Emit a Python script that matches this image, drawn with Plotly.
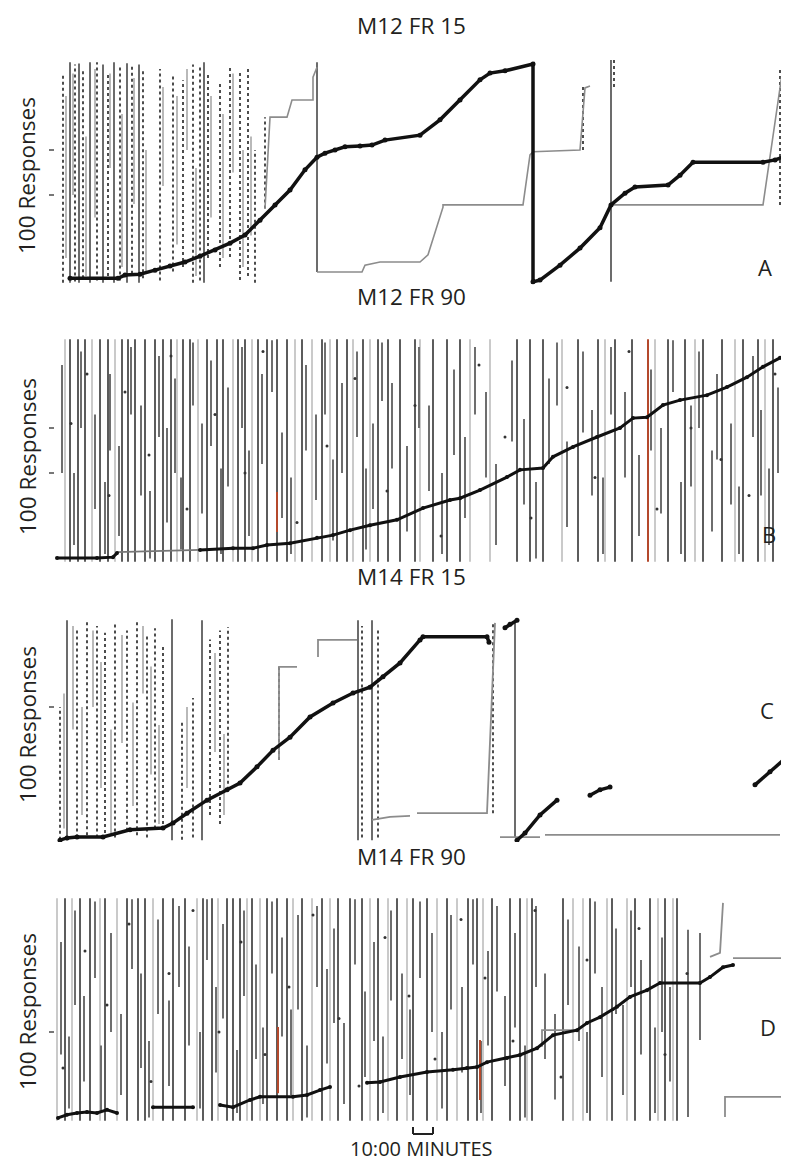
import plotly.graph_objects as go

# ---------------- Panel A : M12 FR 15 ----------------
a_curve_x = [7.5, 31.5, 35, 42.5, 50, 57.5, 65, 72.5, 80, 87.5, 95, 102.5, 110, 117.5, 125, 131, 135, 140,
             145, 152.5, 158.5, 165, 182.5, 192.5, 202.5, 212.5, 217.5, 225, 239, 239, 242.5, 252.5, 262.5,
             272.5, 278, 285, 290, 306.5, 312.5, 319, 354, 360, 367]
a_curve_y = [15, 15, 22, 24, 33, 42, 51, 64, 78, 93, 111, 144, 178, 211, 256, 284, 293, 300,
             307, 309, 311, 322, 333, 367, 411, 456, 471, 476, 491, 7, 11, 44, 82,
             127, 178, 204, 218, 222, 244, 273, 273, 278, 289]
a_step_x = [105, 107.5, 116, 118.5, 129, 129, 131, None, 131, 153.5, 155, 162.5, 182.5, 186.5, 194, 194, 234,
            237.5, 239, 262.5, 265, 267.5, None, 278, 354, 364]
a_step_y = [170, 373, 373, 411, 411, 462, 484, None, 29, 29, 44, 51, 51, 67, 173, 178, 178,
            289, 296, 300, 438, 442, None, 178, 178, 484]
a_solid_x = [7.5, 12, 17.5, 24, 29.5, 36, 42, 74.5, 131, 278]
a_solid_lo = [5, 5, 5, 5, 5, 5, 5, 5, 29, 7]
a_solid_hi = [495, 492, 495, 490, 495, 493, 490, 495, 495, 500]
a_gseg_x = [5.5, 9, 15.5, 20, 27.5, 33.5, 39.5, 45.5, 54, 61, 66, 70.5, 78, 84, 89, 94, 98]
a_gseg_lo = [60, 200, 20, 150, 260, 40, 180, 30, 220, 90, 300, 20, 150, 60, 250, 40, 110]
a_gseg_hi = [420, 470, 330, 480, 470, 380, 460, 300, 440, 420, 480, 260, 420, 380, 470, 300, 330]
a_dot_x = [4, 10, 14, 21, 26.5, 32.5, 38.5, 44, 52.5, 59, 64, 69, 72.5, 76.5, 82.5, 87.5, 92.5, 96.5, 100,
           105, 264, 279.5, 362.5]
a_dot_top = [470, 490, 480, 495, 470, 490, 485, 475, 480, 470, 455, 490, 485, 470, 450, 489, 478, 480, 300,
             373, 440, 500, 484]
a_dot_bot = [5, 8, 15, 10, 20, 10, 25, 15, 10, 30, 40, 5, 10, 60, 40, 62, 11, 20, 5,
             170, 300, 440, 178]
a_ticks = [200, 300]

# ---------------- Panel B : M12 FR 90 ----------------
b_curve_x = [1, 21, 29, 31, None, 72.5, 89, 99, 106, 117.5, 131, 139, 147.5, 157.5, 171, 184, 197.5, 202.5,
             212.5, 226, 232.5, 244, 249, 259, 271, 282.5, 289, 296, 304, 312.5, 326, 336, 346, 354, 362.5]
b_curve_y = [11, 11, 13, 22, None, 29, 33, 33, 40, 44, 56, 62, 73, 84, 96, 122, 140, 144,
             162, 191, 207, 211, 236, 258, 280, 300, 322, 324, 351, 362, 373, 391, 413, 436, 456]
b_flat_x = [31, 72.5]
b_flat_y = [24, 29]
b_dark_x = [7.5, 11.5, 15, 22.5, 26.5, 33.5, 36.5, 40, 45, 50, 54, 58, 64, 67.5, 76, 81, 84, 91.5, 95, 101.5,
            106, 111, 116, 123.5, 133.5, 141, 146, 154, 161.5, 166.5, 172.5, 180, 189, 196, 202.5, 231,
            237.5, 244, 261.5, 271.5, 280, 288.5, 306.5, 315, 324, 333.5, 344, 351.5, 359]
b_light_x = [5, 18.5, 30, 61, 71.5, 89, 98.5, 120, 128.5, 137.5, 149, 157.5, 182.5, 207.5, 217.5, 253.5,
             275, 300, 320, 340, 355]
b_seg_x = [3.5, 9.5, 13, 20, 25, 27.5, 32, 38, 43, 47.5, 52, 56, 60, 63, 69, 73.5, 78, 83, 86.5, 93.5,
           97, 103.5, 108.5, 113.5, 118, 125.5, 130.5, 135, 139, 143.5, 151, 155.5, 159, 163.5, 168.5, 176,
           182, 187, 193.5, 199.5, 205, 210, 215.5, 220.5, 228.5, 234.5, 240.5, 247, 251, 256, 264, 268.5,
           274, 278, 285, 292, 298, 303, 309, 313, 318, 322, 328.5, 331, 338, 342, 349, 353, 357, 361.5]
b_seg_lo = [200, 40, 300, 120, 20, 250, 60, 330, 150, 10, 280, 90, 200, 30, 350, 110, 260, 20, 170, 300,
            60, 220, 380, 100, 20, 250, 140, 330, 50, 200, 280, 30, 120, 360, 210, 70, 300, 160, 20, 240,
            100, 330, 190, 40, 270, 130, 10, 220, 350, 80, 290, 150, 20, 330, 190, 60, 250, 110, 380, 20,
            170, 300, 70, 230, 130, 20, 280, 150, 40, 200]
b_seg_hi = [440, 200, 470, 330, 180, 420, 260, 480, 350, 160, 460, 300, 410, 190, 490, 310, 450, 210, 390, 480,
            250, 420, 495, 290, 190, 440, 330, 490, 230, 400, 470, 210, 310, 490, 400, 260, 480, 350, 200, 430,
            280, 480, 380, 220, 450, 320, 180, 410, 490, 270, 470, 340, 190, 480, 380, 240, 430, 300, 495, 180,
            350, 470, 250, 420, 310, 170, 460, 340, 210, 390]
b_red_x = [296.5, 111]
b_red_lo = [3, 69]
b_red_hi = [497, 158]
b_pt_x = [8, 16, 27, 35, 47, 58, 66, 80, 95, 104, 121, 136, 150, 166, 180, 193, 212, 225, 238, 256, 270, 287,
          301, 318, 333, 347, 360]
b_pt_y = [310, 420, 150, 380, 240, 460, 120, 330, 200, 470, 90, 260, 410, 160, 350, 60, 440, 280, 100, 390,
          190, 470, 120, 300, 230, 150, 420]
b_ticks = [200, 300]

# ---------------- Panel C : M14 FR 15 ----------------
c_curve_x = [2.5, 6, 11, 24, 37.5, 54, 59, 66, 76, 86, 92.5, 101, 109, 117.5, 127.5, 139, 149, 157.5, 164,
             172.5, 182.5, 184, 216, 217, None, 225, 227.5, 231, None, 231, 235, 242.5, 251, None,
             267.5, 272.5, 277.5, None, 350, 357.5, 366]
c_curve_y = [4, 9, 11, 11, 27, 31, 42, 64, 93, 116, 131, 167, 204, 233, 278, 309, 331, 344, 367,
             398, 449, 456, 456, 444, None, 476, 484, 493, None, 4, 20, 60, 93, None,
             104, 116, 122, None, 127, 156, 189]
c_step_x = [112, 112, 121, None, 131.5, 131.5, 151, None, 158.5, 167.5, 177.5, None, 181, 216, 220, None,
            222.5, 242.5, None, 245, 362.5]
c_step_y = [182, 389, 389, None, 411, 449, 449, None, 49, 56, 58, None, 64, 64, 487, None,
            11, 11, None, 16, 16]
c_solid_x = [6, 58.5, 73.5, 151.5, 158.5, 230]
c_solid_lo = [4, 4, 4, 4, 4, 11]
c_solid_hi = [493, 495, 493, 493, 493, 487]
c_gseg_x = [4.5, 9, 13.5, 19, 23, 28, 33.5, 39, 44, 48, 52, 66, 80, 84.5]
c_gseg_lo = [30, 250, 60, 300, 120, 20, 220, 80, 330, 150, 40, 120, 200, 60]
c_gseg_hi = [330, 480, 300, 470, 400, 250, 460, 310, 480, 390, 260, 300, 420, 240]
c_dot_x = [2.5, 11, 16, 21, 25, 30, 36, 41, 46, 50, 54, 63.5, 69, 77.5, 82.5, 86.5, 112, 153.5, 161.5, 219]
c_dot_top = [300, 470, 490, 480, 465, 485, 470, 490, 460, 475, 440, 270, 320, 450, 470, 478, 389, 480, 470, 487]
c_dot_bot = [5, 10, 15, 10, 20, 10, 25, 15, 10, 30, 40, 5, 10, 60, 40, 116, 182, 10, 10, 64]
c_ticks = [300]

# ---------------- Panel D : M14 FR 90 ----------------
d_curve_x = [1.5, 6, 11, 16, 21, 26, 31, None, 49, 69, None, 82.5, 89, 97.5, 102.5, 119, 126, 132.5, 137.5,
             None, 156, 162.5, 172.5, 186, 199, 206, 211, 216, 226, 232.5, 241, 249, 261, 266, 272.5, 281,
             287.5, 296, 302.5, 322.5, 327.5, 334, 339]
d_curve_y = [9, 16, 20, 22, 20, 27, 20, None, 33, 33, None, 38, 33, 49, 56, 56, 60, 71, 78,
             None, 87, 89, 100, 111, 116, 120, 122, 133, 142, 149, 164, 193, 204, 220, 233, 256,
             278, 293, 309, 309, 322, 344, 349]
d_step_x = [243.5, 243.5, 261, None, 327.5, 332.5, 334, None, 339, 366, None, 335, 335, 366]
d_step_y = [167, 204, 204, None, 367, 376, 487, None, 364, 364, None, 11, 56, 56]
d_dark_x = [5, 12.5, 17.5, 25, 36, 41.5, 45, 54, 59, 65, 74, 78.5, 86, 89, 92.5, 98.5, 106, 111, 116, 123.5,
            133.5, 141.5, 147.5, 153.5, 161.5, 171, 179, 186, 196, 206.5, 211, 218.5, 227.5, 232.5, 238.5,
            254, 267.5, 278.5, 290, 297.5, 305, 311]
d_light_x = [1, 8.5, 22.5, 31, 49, 71, 81.5, 96, 102.5, 119, 128.5, 137.5, 157.5, 166.5, 176, 191, 201, 214,
             236, 259, 264, 276, 286, 301.5, 309]
d_seg_x = [3, 7, 10, 14.5, 20, 23, 28, 33, 38.5, 43, 47, 51.5, 57, 62, 67, 72.5, 76, 80.5, 84, 91,
           94.5, 100.5, 104, 108.5, 113.5, 118, 121.5, 126, 131, 136, 139.5, 144.5, 150, 155, 159.5, 164,
           168, 173.5, 177.5, 182.5, 188.5, 193.5, 198, 203.5, 209, 213, 216.5, 221, 225, 230, 235, 240.5,
           245, 250, 256.5, 262, 266, 270, 273.5, 280.5, 284, 288, 293, 300, 303.5, 307.5, 316.5, 322.5]
d_seg_lo = [150, 30, 260, 90, 320, 20, 200, 60, 340, 120, 10, 240, 80, 300, 170, 30, 360, 110, 230, 20,
            280, 140, 40, 330, 190, 60, 250, 10, 300, 130, 220, 40, 350, 100, 180, 20, 270, 140, 60, 320,
            200, 30, 250, 110, 350, 20, 170, 290, 80, 210, 10, 300, 140, 50, 260, 180, 20, 330, 100, 240,
            60, 300, 150, 20, 200, 90, 11, 182]
d_seg_hi = [400, 190, 470, 280, 490, 170, 420, 240, 495, 330, 180, 450, 270, 480, 390, 200, 495, 300, 440, 160,
            470, 350, 210, 490, 410, 250, 460, 170, 480, 340, 430, 220, 495, 290, 400, 190, 470, 330, 250, 490,
            420, 200, 460, 300, 495, 180, 380, 480, 280, 420, 170, 480, 330, 240, 450, 390, 200, 490, 300, 430,
            260, 470, 360, 210, 410, 300, 427, 420]
d_red_x = [111.5, 212.5]
d_red_lo = [64, 49]
d_red_hi = [211, 182]
d_pt_x = [4, 15, 26, 37, 48, 57, 69, 82, 93, 105, 117, 129, 142, 152, 165, 177, 190, 203, 215, 229, 240, 253,
          266, 279, 292, 305, 316]
d_pt_y = [120, 380, 260, 440, 90, 330, 470, 200, 400, 150, 300, 460, 230, 80, 410, 280, 140, 450, 320, 180,
          470, 100, 360, 250, 430, 150, 330]
d_ticks = [200]

# scale bar
scale_start_min = 179
scale_len_min = 10

titles = ["M12 FR 15", "M12 FR 90", "M14 FR 15", "M14 FR 90"]
letters = ["A", "B", "C", "D"]
y_label = "100 Responses"
x_label = "10:00 MINUTES"

# ---------------- layout geometry (reference-window pixels) ----------------
PAGE_W, PAGE_H = 789, 1166
BODY = 8                      # default page margin around the plot div
W, H = PAGE_W - BODY, PAGE_H - BODY


def px(xp):
    return (xp - BODY) / W


def py(yp):
    return 1 - (yp - BODY) / H


panel_top_px = [60, 338, 617, 897]
panel_bot_px = [285, 563, 842, 1122]
left_px = 55
X_RANGE = [0, 367]
Y_RANGE = [0, 500]

DARK = "#5c5c5c"
LIGHT = "#cacaca"
MID = "#8c8c8c"
RED = "#b4492c"
BLACK = "#111111"


def vl(xs, lo, hi):
    X, Y = [], []
    for i, x in enumerate(xs):
        a = lo[i] if isinstance(lo, list) else lo
        b = hi[i] if isinstance(hi, list) else hi
        X += [x, x, None]
        Y += [a, b, None]
    return X, Y


fig = go.Figure()


def add(k, x, y, color, width, dash=None, mode="lines", msize=0, mcolor=None):
    xa = "x" if k == 1 else f"x{k}"
    ya = "y" if k == 1 else f"y{k}"
    kw = dict(x=x, y=y, mode=mode, xaxis=xa, yaxis=ya, hoverinfo="skip", showlegend=False)
    if "lines" in mode:
        kw["line"] = dict(color=color, width=width, dash=dash)
    if "markers" in mode:
        kw["marker"] = dict(size=msize, color=mcolor or color, symbol="circle")
    fig.add_trace(go.Scatter(**kw))


# Panel A
x, y = vl(a_gseg_x, a_gseg_lo, a_gseg_hi)
add(1, x, y, "#a8a8a8", 1.6)
x, y = vl(a_dot_x, a_dot_bot, a_dot_top)
add(1, x, y, "#3a3a3a", 1.8, dash="dot")
x, y = vl(a_solid_x, a_solid_lo, a_solid_hi)
add(1, x, y, DARK, 1.8)
add(1, a_step_x, a_step_y, MID, 1.6)
add(1, a_curve_x, a_curve_y, BLACK, 3.5, mode="lines+markers", msize=5)

# Panel B
x, y = vl(b_light_x, 3, 497)
add(2, x, y, LIGHT, 2)
x, y = vl(b_seg_x, b_seg_lo, b_seg_hi)
add(2, x, y, "#6e6e6e", 2)
x, y = vl(b_dark_x, 3, 497)
add(2, x, y, DARK, 2)
x, y = vl(b_red_x, b_red_lo, b_red_hi)
add(2, x, y, RED, 2)
add(2, b_pt_x, b_pt_y, "#333", 0, mode="markers", msize=3)
add(2, b_flat_x, b_flat_y, "#777", 1.8)
add(2, b_curve_x, b_curve_y, BLACK, 3, mode="lines+markers", msize=4)

# Panel C
x, y = vl(c_gseg_x, c_gseg_lo, c_gseg_hi)
add(3, x, y, "#a8a8a8", 1.6)
x, y = vl(c_dot_x, c_dot_bot, c_dot_top)
add(3, x, y, "#3a3a3a", 1.8, dash="dot")
x, y = vl(c_solid_x, c_solid_lo, c_solid_hi)
add(3, x, y, DARK, 1.8)
add(3, c_step_x, c_step_y, MID, 1.8)
add(3, c_curve_x, c_curve_y, BLACK, 3.5, mode="lines+markers", msize=5)

# Panel D
x, y = vl(d_light_x, 3, 497)
add(4, x, y, LIGHT, 2)
x, y = vl(d_seg_x, d_seg_lo, d_seg_hi)
add(4, x, y, "#6e6e6e", 2)
x, y = vl(d_dark_x, 3, 497)
add(4, x, y, DARK, 2)
x, y = vl(d_red_x, d_red_lo, d_red_hi)
add(4, x, y, RED, 2)
add(4, d_step_x, d_step_y, MID, 1.8)
add(4, d_pt_x, d_pt_y, "#333", 0, mode="markers", msize=3)
add(4, d_curve_x, d_curve_y, BLACK, 3, mode="lines+markers", msize=4)

layout = dict(width=W, height=H, autosize=False, margin=dict(l=0, r=0, t=0, b=0),
              paper_bgcolor="white", plot_bgcolor="white",
              font=dict(family="Open Sans", color="#231f20"))
tick_sets = [a_ticks, b_ticks, c_ticks, d_ticks]
for k in range(1, 5):
    xn = "xaxis" if k == 1 else f"xaxis{k}"
    yn = "yaxis" if k == 1 else f"yaxis{k}"
    top, bot = panel_top_px[k - 1], panel_bot_px[k - 1]
    layout[xn] = dict(domain=[px(left_px), 1], range=X_RANGE, visible=False,
                      anchor="y" if k == 1 else f"y{k}")
    layout[yn] = dict(domain=[py(bot), py(top)], range=Y_RANGE,
                      anchor="x" if k == 1 else f"x{k}",
                      showgrid=False, zeroline=False, showline=False, showticklabels=False,
                      ticks="outside", ticklen=5, tickwidth=1.5, tickcolor="#777",
                      tickmode="array", tickvals=tick_sets[k - 1])
fig.update_layout(**layout)

# text
title_y_px = [25, 296, 576, 856]
letter_pos_px = [(765, 267), (769, 534), (767, 710), (768, 1027)]
ylabel_y_px = [176, 457, 725, 1012]
ann = []
for i in range(4):
    ann.append(dict(text=titles[i], x=px(411), y=py(title_y_px[i]), xref="paper", yref="paper",
                    showarrow=False, font=dict(size=22.5), xanchor="center", yanchor="middle"))
    ann.append(dict(text=letters[i], x=px(letter_pos_px[i][0]), y=py(letter_pos_px[i][1]),
                    xref="paper", yref="paper", showarrow=False, font=dict(size=22),
                    xanchor="center", yanchor="middle"))
    ann.append(dict(text=y_label, x=px(27), y=py(ylabel_y_px[i]), xref="paper", yref="paper",
                    showarrow=False, textangle=-90, font=dict(size=22.5),
                    xanchor="center", yanchor="middle"))
ann.append(dict(text=x_label, x=px(421), y=py(1148), xref="paper", yref="paper", showarrow=False,
                font=dict(size=20), xanchor="center", yanchor="middle"))
fig.update_layout(annotations=ann)

# scale bar bracket (10 minutes on panel D's time axis)
yb0, yb1 = py(1134), py(1127)
sb = dict(color="#222", width=2)
fig.add_shape(type="line", xref="x4", yref="paper", x0=scale_start_min, x1=scale_start_min + scale_len_min,
              y0=yb0, y1=yb0, line=sb)
fig.add_shape(type="line", xref="x4", yref="paper", x0=scale_start_min, x1=scale_start_min,
              y0=yb0, y1=yb1, line=sb)
fig.add_shape(type="line", xref="x4", yref="paper", x0=scale_start_min + scale_len_min,
              x1=scale_start_min + scale_len_min, y0=yb0, y1=yb1, line=sb)

fig.write_html("out.html")
